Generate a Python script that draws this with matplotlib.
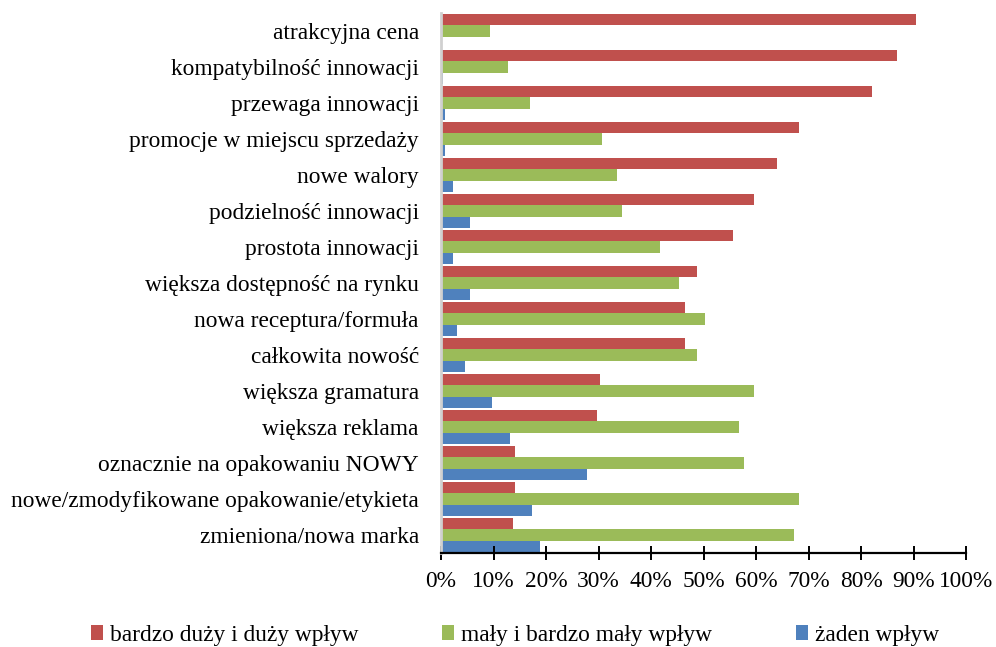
import numpy as np
import matplotlib
matplotlib.use("Agg")
import matplotlib.pyplot as plt
from matplotlib.patches import Patch

plt.rcParams['font.family'] = ['Liberation Serif', 'DejaVu Serif']

categories = [
    "atrakcyjna cena",
    "kompatybilność innowacji",
    "przewaga innowacji",
    "promocje w miejscu sprzedaży",
    "nowe walory",
    "podzielność innowacji",
    "prostota innowacji",
    "większa dostępność na rynku",
    "nowa receptura/formuła",
    "całkowita nowość",
    "większa gramatura",
    "większa reklama",
    "oznacznie na opakowaniu NOWY",
    "nowe/zmodyfikowane opakowanie/etykieta",
    "zmieniona/nowa marka",
]
duzy = [90.4, 86.8, 82.0, 68.2, 64.0, 59.7, 55.7, 48.7, 46.4, 46.4,
        30.3, 29.8, 14.1, 14.1, 13.7]
maly = [9.4, 12.7, 17.0, 30.6, 33.5, 34.5, 41.8, 45.4, 50.2, 48.7,
        59.7, 56.8, 57.8, 68.2, 67.3]
zaden = [0.0, 0.3, 0.85, 0.85, 2.3, 5.6, 2.3, 5.6, 3.1, 4.6,
         9.8, 13.2, 27.9, 17.4, 18.9]
series_names = ["bardzo duży i duży wpływ", "mały i bardzo mały wpływ", "żaden wpływ"]
colors = ["#C0504D", "#9BBB59", "#4F81BD"]
xticks = np.arange(0, 101, 10)
fs = 16.8

fig = plt.figure(figsize=(9.96, 6.47), dpi=100)
ax = fig.add_axes([441 / 996, 1 - 553 / 647, 525 / 996, 540 / 647])

y = np.arange(len(categories))
h = 0.31
for k, vals in enumerate([duzy, maly, zaden]):
    ax.barh(y + (k - 1) * h, vals, height=h, color=colors[k], edgecolor="none")

ax.set_ylim(len(categories) - 0.5, -0.5)
ax.set_xlim(0, 100)
ax.set_yticks(y)
ax.set_yticklabels(categories, fontsize=fs)
ax.tick_params(axis="y", length=0, pad=16)
ax.set_xticks(xticks)
ax.set_xticklabels([f"{v}%" for v in xticks], fontsize=fs)
ax.tick_params(axis="x", direction="inout", length=10, width=1.4, pad=8)

for s in ["top", "right"]:
    ax.spines[s].set_visible(False)
ax.spines["left"].set_color("#D0D0D0")
ax.spines["left"].set_linewidth(2)
ax.spines["bottom"].set_color("black")
ax.spines["bottom"].set_linewidth(1.6)

handles = [Patch(facecolor=c, edgecolor="none") for c in colors]
fig.legend(handles, series_names, loc="center", bbox_to_anchor=(515 / 996, 1 - 635 / 647),
           ncol=3, frameon=False, fontsize=fs, handlelength=0.5, handleheight=0.6,
           handletextpad=0.3, columnspacing=3.6, borderpad=0)

fig.savefig("out.png", dpi=100)
